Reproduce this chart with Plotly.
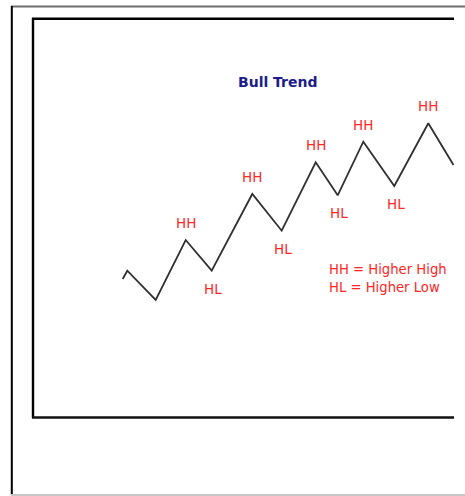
import plotly.graph_objects as go

# ---- data (swing path, chart units: x = time, y = price) ----
times = [122.7, 127.3, 155.7, 185.7, 211.7, 252.3, 281.7, 315.7, 337.7, 363.3, 394.3, 428.3, 453.5]
prices = [217.0, 225.3, 196.0, 256.0, 225.3, 302.0, 265.3, 333.7, 300.7, 354.3, 310.0, 372.7, 331.0]

# swing labels: index into path -> label
swing_idx = [3, 4, 5, 6, 7, 8, 9, 10, 11]
swing_lbl = ["HH", "HL", "HH", "HL", "HH", "HL", "HH", "HL", "HH"]

title_text = "Bull Trend"
legend_lines = ["HH = Higher High", "HL = Higher Low"]

W, H = 465, 496
RED = "#ff2626"

fig = go.Figure()
fig.add_trace(go.Scatter(
    x=times, y=prices, mode="lines",
    line=dict(color="#303030", width=1.8),
    hoverinfo="skip", showlegend=False,
))

ann = []
for i, lbl in zip(swing_idx, swing_lbl):
    up = lbl == "HH"
    ann.append(dict(
        x=times[i], y=prices[i], xref="x", yref="y", text=lbl, showarrow=False,
        xanchor="center", yanchor="middle",
        yshift=17 if up else -18, xshift=0 if up else 1.5,
        font=dict(family="DejaVu Sans", size=13.5, color=RED),
    ))

ann.append(dict(
    x=278, y=H - 82, xref="x", yref="y", text="<b>" + title_text + "</b>",
    showarrow=False, xanchor="center", yanchor="middle",
    font=dict(family="DejaVu Sans", size=14, color="#1c1c8a"),
))
for k, t in enumerate(legend_lines):
    ann.append(dict(
        x=326.5, y=H - (269.5 + 17.5 * k), xref="x", yref="y", text=t,
        showarrow=False, xanchor="left", yanchor="middle",
        font=dict(family="DejaVu Sans", size=13.2, color=RED),
    ))

def seg(x0, y0, x1, y1, color, width):
    return dict(type="line", xref="x", yref="y", x0=x0, y0=H - y0, x1=x1, y1=H - y1,
                line=dict(color=color, width=width), layer="below")

shapes = [
    # outer frame
    seg(11, 6.5, 465, 6.5, "#6e6e6e", 2),
    seg(11.8, 6, 11.8, 495, "#000000", 2),
    seg(11, 495, 465, 495, "#c8c8c8", 2),
    # inner frame
    seg(32, 18.8, 454, 18.8, "#000000", 2.4),
    seg(33, 18, 33, 418, "#000000", 2.4),
    seg(32, 417.5, 454, 417.5, "#111111", 2.4),
]

fig.update_layout(
    width=W, height=H, autosize=False,
    margin=dict(l=0, r=0, t=0, b=0, pad=0),
    paper_bgcolor="white", plot_bgcolor="white",
    xaxis=dict(range=[0, W], visible=False, fixedrange=True),
    yaxis=dict(range=[0, H], visible=False, fixedrange=True),
    annotations=ann, shapes=shapes, showlegend=False,
)

fig.write_html(
    "out.html",
    config={"displayModeBar": False},
    post_script="document.body.style.margin='0';document.body.style.overflow='hidden';",
)
